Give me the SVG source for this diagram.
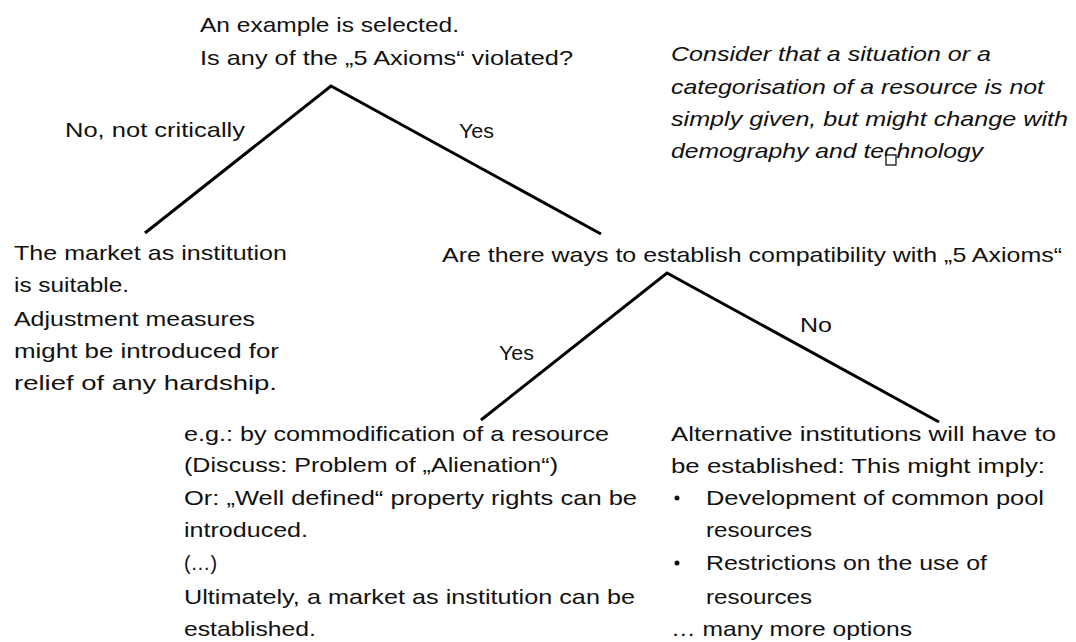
<svg xmlns="http://www.w3.org/2000/svg" width="1076" height="642" viewBox="0 0 1076 642">
<style>
text{font-family:"Liberation Sans",Arial,sans-serif;font-size:21px;fill:#111}
.it{font-style:italic}
.ln{stroke:#000;stroke-width:3;fill:none}
</style>
<rect width="1076" height="642" fill="#fff"/>
<g id="connectors">
<path class="ln" d="M145,233 L331,86 L601,234"/>
<path class="ln" d="M481,420 L667,273 L939,422"/>
</g>
<g id="root">
<text x="200" y="32" textLength="259" lengthAdjust="spacingAndGlyphs">An example is selected.</text>
<text x="200" y="65" textLength="373" lengthAdjust="spacingAndGlyphs">Is any of the „5 Axioms“ violated?</text>
</g>
<g id="label-no1"><text x="65" y="137" textLength="180" lengthAdjust="spacingAndGlyphs">No, not critically</text></g>
<g id="label-yes1"><text x="459" y="138" textLength="35" lengthAdjust="spacingAndGlyphs">Yes</text></g>
<g id="note">
<text class="it" x="671" y="61" textLength="320" lengthAdjust="spacingAndGlyphs">Consider that a situation or a</text>
<text class="it" x="671" y="94" textLength="373" lengthAdjust="spacingAndGlyphs">categorisation of a resource is not</text>
<text class="it" x="671" y="126" textLength="397" lengthAdjust="spacingAndGlyphs">simply given, but might change with</text>
<text class="it" x="671" y="158" textLength="312" lengthAdjust="spacingAndGlyphs">demography and technology</text>
<rect x="886" y="155" width="10" height="10" fill="#fff" stroke="#000" stroke-width="1.2"/>
</g>
<g id="market">
<text x="14" y="260" textLength="273" lengthAdjust="spacingAndGlyphs">The market as institution</text>
<text x="14" y="292" textLength="115" lengthAdjust="spacingAndGlyphs">is suitable.</text>
<text x="14" y="326" textLength="241" lengthAdjust="spacingAndGlyphs">Adjustment measures</text>
<text x="14" y="358" textLength="265" lengthAdjust="spacingAndGlyphs">might be introduced for</text>
<text x="14" y="390" textLength="263" lengthAdjust="spacingAndGlyphs">relief of any hardship.</text>
</g>
<g id="question2">
<text x="442" y="262" textLength="620" lengthAdjust="spacingAndGlyphs">Are there ways to establish compatibility with „5 Axioms“</text>
</g>
<g id="label-yes2"><text x="499" y="360" textLength="35" lengthAdjust="spacingAndGlyphs">Yes</text></g>
<g id="label-no2"><text x="800" y="332" textLength="32" lengthAdjust="spacingAndGlyphs">No</text></g>
<g id="yes-outcome">
<text x="184" y="441" textLength="425" lengthAdjust="spacingAndGlyphs">e.g.: by commodification of a resource</text>
<text x="184" y="472" textLength="374" lengthAdjust="spacingAndGlyphs">(Discuss: Problem of „Alienation“)</text>
<text x="184" y="505" textLength="453" lengthAdjust="spacingAndGlyphs">Or: „Well defined“ property rights can be</text>
<text x="184" y="537" textLength="124" lengthAdjust="spacingAndGlyphs">introduced.</text>
<text x="184" y="570" textLength="33" lengthAdjust="spacingAndGlyphs">(…)</text>
<text x="184" y="604" textLength="451" lengthAdjust="spacingAndGlyphs">Ultimately, a market as institution can be</text>
<text x="184" y="636" textLength="132" lengthAdjust="spacingAndGlyphs">established.</text>
</g>
<g id="no-outcome">
<text x="671" y="441" textLength="385" lengthAdjust="spacingAndGlyphs">Alternative institutions will have to</text>
<text x="671" y="473" textLength="374" lengthAdjust="spacingAndGlyphs">be established: This might imply:</text>
<circle cx="677" cy="498" r="2.5" fill="#111"/>
<text x="706" y="505" textLength="338" lengthAdjust="spacingAndGlyphs">Development of common pool</text>
<text x="706" y="537" textLength="106" lengthAdjust="spacingAndGlyphs">resources</text>
<circle cx="677" cy="563" r="2.5" fill="#111"/>
<text x="706" y="570" textLength="281" lengthAdjust="spacingAndGlyphs">Restrictions on the use of</text>
<text x="706" y="604" textLength="106" lengthAdjust="spacingAndGlyphs">resources</text>
<text x="671" y="636" textLength="241" lengthAdjust="spacingAndGlyphs">… many more options</text>
</g>
</svg>
